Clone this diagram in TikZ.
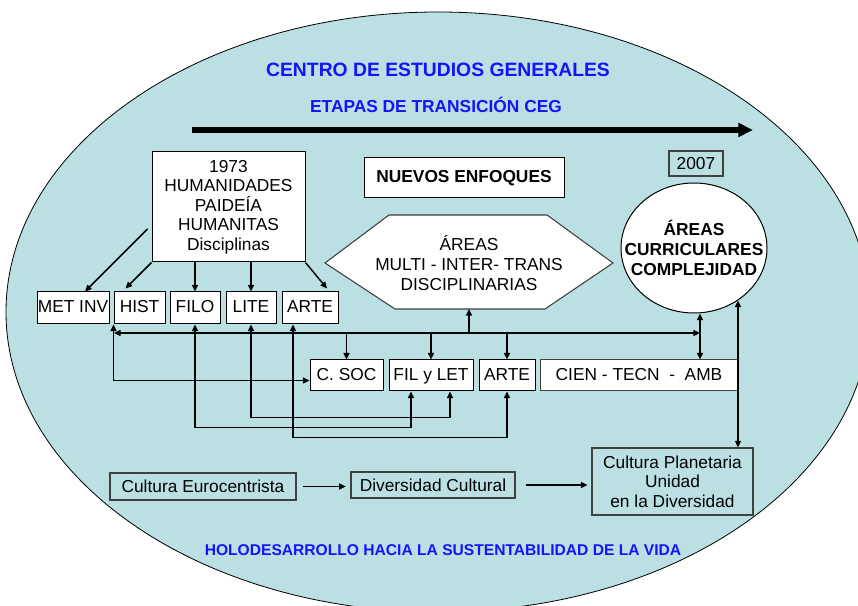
\documentclass[tikz,border=0pt]{standalone}
\usepackage{fontspec}
\setmainfont{Liberation Sans}
\usetikzlibrary{arrows.meta,calc,shapes.geometric}

\definecolor{cegfill}{RGB}{186,224,227}
\definecolor{cegblue}{RGB}{20,20,250}
\definecolor{cegline}{RGB}{64,64,64}

\begin{document}
\begin{tikzpicture}[x=0.75pt, y=-0.75pt,
    every node/.style={font=\fontsize{13}{14.7}\selectfont, inner sep=0pt, align=center},
    box/.style={draw, fill=white, line width=0.75pt},
    small/.style={box, minimum height=24pt, text height=9.4pt, text depth=2.6pt},
    lower/.style={box, minimum height=23.25pt, text height=9.4pt, text depth=2.6pt},
    softbox/.style={draw=cegline, line width=0.8pt},
    heading/.style={text=cegblue, font=\bfseries\fontsize{14.5}{16}\selectfont},
    link/.style={line width=1.1pt, -{Triangle[length=5pt,width=4.5pt]}},
    twoway/.style={line width=1.1pt, {Triangle[length=5pt,width=4.5pt]}-{Triangle[length=5pt,width=4.5pt]}}]
    \useasboundingbox (0,0) rectangle (858,606);
    \begin{scope}
        \clip (0,0) rectangle (858,606);
        \draw [fill=cegfill, line width=0.6pt] (438,312) ellipse [x radius=432, y radius=300];
    \end{scope}

    \node [heading] (ceg) at (438,70) {CENTRO DE ESTUDIOS GENERALES};
    \node [heading, font=\bfseries\fontsize{13}{15}\selectfont] (etapas) at (436,105) {ETAPAS DE TRANSICIÓN CEG};
    \coordinate (tstart) at (192,130);
    \coordinate (tend) at (753,130);
    \draw [line width=3.8pt, -{Triangle[length=11pt,width=10pt]}] (tstart) -- (tend);

    \node [box, minimum width=114.75pt, minimum height=82.5pt] (hum) at (228.5,207) {1973\\HUMANIDADES\\PAIDEÍA\\HUMANITAS\\Disciplinas};
    \node [small, minimum width=54pt] (metinv) at (73,308) {MET INV};
    \node [small, minimum width=38.25pt] (hist) at (139.5,308) {HIST};
    \node [small, minimum width=37.5pt] (filo) at (195,308) {FILO};
    \node [small, minimum width=37.5pt] (lite) at (251,308) {LITE};
    \node [small, minimum width=42pt] (arte) at (310,308) {ARTE};

    \node [box, minimum width=150pt, minimum height=30pt, font=\bfseries\fontsize{13}{15}\selectfont] (enfoques) at (464,178) {NUEVOS ENFOQUES};
    \draw [fill=white, draw=cegline, line width=0.8pt] (325,263) -- (389,215) -- (547,215) -- (613,263) -- (545,309) -- (395,309) -- cycle;
    \node (multi) at (469,263) {ÁREAS\\MULTI - INTER- TRANS\\DISCIPLINARIAS};
    \coordinate (hexbase) at (469,309);

    \node [softbox, minimum width=40.5pt, minimum height=18.75pt] (year) at (696,163.5) {2007};
    \node [box, ellipse, inner xsep=-22pt, minimum width=109.5pt, minimum height=97.5pt, font=\bfseries\fontsize{13}{14.7}\selectfont] (complejidad) at (694,248) {ÁREAS\\CURRICULARES\\COMPLEJIDAD};

    \node [lower, minimum width=54.75pt] (csoc) at (346.5,375.5) {C. SOC};
    \node [lower, minimum width=63pt] (fillet) at (431,375.5) {FIL y LET};
    \node [lower, minimum width=42pt] (arte2) at (507,375.5) {ARTE};
    \node [lower, draw=cegline, minimum width=148.5pt] (cien) at (639,375.5) {CIEN - TECN\ \ -\ \ AMB};

    \node [softbox, minimum width=139.5pt, minimum height=20.25pt] (euro) at (203,486.5) {Cultura Eurocentrista};
    \node [softbox, minimum width=123pt, minimum height=19.5pt] (diversidad) at (433,485) {Diversidad Cultural};
    \node [softbox, minimum width=120.75pt, minimum height=50.25pt] (planetaria) at (672.5,481.5) {Cultura Planetaria\\Unidad\\en la Diversidad};
    \node [heading, font=\bfseries\fontsize{11.7}{14}\selectfont] (holo) at (443,550) {HOLODESARROLLO HACIA LA SUSTENTABILIDAD DE LA VIDA};

    \draw [link] ($(hum.west)+(-4,22)$) -- ($(metinv.north)+(12,0)$);
    \draw [link] (hum.south west) -- ($(hist.north)+(-14,-3)$);
    \draw [link] (hum.south -| filo.north) -- (filo.north);
    \draw [link] (hum.south -| lite.north) -- (lite.north);
    \draw [link] (hum.south east) -- ($(arte.north)+(17,-3)$);

    \coordinate (busleft) at (114,333);
    \coordinate (busright) at (700,333);
    \draw [twoway] (busleft) -- (busright);
    \draw [twoway] (complejidad.south -| busright) -- (cien.north -| busright);
    \draw [link] (hexbase |- busright) -- (hexbase);
    \draw [link] (csoc.north |- busright) -- (csoc.north);
    \draw [link] (fillet.north |- busright) -- (fillet.north);
    \draw [link] (arte2.north |- busright) -- (arte2.north);

    \draw [twoway] ($(metinv.south east)+(4,0)$) |- ($(csoc.west)+(0,5)$);
    \draw [twoway] (filo.south) -- ++(0,103) -| ($(fillet.south)+(-20,0)$);
    \draw [twoway] (lite.south) -- ++(0,93) -| ($(fillet.south)+(19,0)$);
    \draw [twoway] ($(arte.south)+(-17,0)$) -- ++(0,113) -| (arte2.south);
    \draw [twoway] (complejidad.-50) -- (complejidad.-50 |- planetaria.north);

    \draw [link, shorten <=5pt, shorten >=3.5pt] (euro.east) -- (euro.east -| diversidad.west);
    \draw [link, shorten <=7.5pt, shorten >=3pt] (diversidad.east) -- (diversidad.east -| planetaria.west);
\end{tikzpicture}
\end{document}
